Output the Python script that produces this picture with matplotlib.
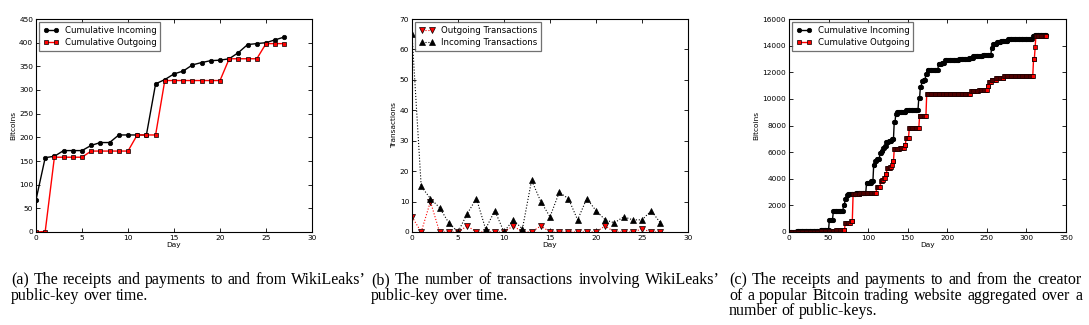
import numpy as np
import matplotlib
matplotlib.use('Agg')
import matplotlib.pyplot as plt

# ---------------- data ----------------
days_a = list(range(28))
a_in = [68, 157, 160, 172, 172, 172, 183, 189, 189, 205, 205, 205, 205, 313,
        322, 334, 340, 353, 358, 362, 363, 366, 379, 396, 398, 400, 406, 412]
a_out = [0, 1, 158, 158, 158, 158, 171, 171, 171, 171, 171, 205, 205, 205,
         320, 320, 320, 320, 320, 320, 320, 366, 366, 366, 366, 398, 398, 398]

days_b = list(range(28))
b_out = [5, 0, 10, 0, 0, 0, 2, 0, 0, 0, 0, 2, 0, 0, 2, 0, 0, 0, 0, 0, 0, 2,
         0, 0, 0, 1, 0, 0]
b_in = [65, 15, 11, 8, 3, 0, 6, 11, 1, 7, 0, 4, 1, 17, 10, 5, 13, 11, 4, 11,
        7, 4, 3, 5, 4, 4, 7, 3]

# panel (c): cumulative levels, each held from its start day to the next one
c_in_start = [0, 10, 20, 30, 40, 47, 51, 56, 69, 71, 73, 75, 85, 98, 104, 107,
              109, 111, 115, 117, 119, 121, 123, 126, 130, 133, 135, 137, 141,
              148, 164, 166, 168, 170, 173, 175, 189, 193, 197, 205, 215, 228,
              233, 245, 256, 258, 263, 268, 277, 308, 311]
c_in_level = [20, 40, 60, 90, 120, 160, 920, 1560, 2050, 2450, 2800, 2880,
              2950, 3700, 3800, 5000, 5300, 5450, 5950, 6050, 6300, 6450, 6750,
              6850, 7000, 8300, 8900, 9000, 9050, 9200, 10050, 10900, 11350,
              11450, 11900, 12150, 12650, 12700, 12900, 12950, 13000, 13100,
              13250, 13300, 13800, 14100, 14250, 14350, 14500, 14700, 14800]
c_out_start = [0, 20, 40, 50, 60, 71, 75, 78, 81, 90, 100, 111, 116, 118, 120,
               122, 124, 128, 130, 131, 133, 140, 146, 148, 152, 165, 174, 230,
               240, 251, 253, 256, 262, 272, 309, 311, 312]
c_out_level = [10, 30, 60, 100, 120, 650, 700, 850, 2850, 2900, 2950, 3350,
               3800, 3900, 4050, 4350, 4800, 4900, 5000, 5300, 6250, 6300, 6550,
               7050, 7800, 8700, 10350, 10600, 10650, 11000, 11300, 11450,
               11550, 11700, 13000, 13900, 14750]
c_last_day = 325

captions = {
    'a': ["(a) The receipts and payments to and from WikiLeaks\u2019",
          "public-key over time."],
    'b': ["(b) The number of transactions involving WikiLeaks\u2019",
          "public-key over time."],
    'c': ["(c) The receipts and payments to and from the creator",
          "of a popular Bitcoin trading website aggregated over a",
          "number of public-keys."],
}


def hold(starts, levels, last):
    d = np.arange(0, last + 1)
    idx = np.searchsorted(np.asarray(starts), d, side='right') - 1
    return d, np.asarray(levels)[idx]


# ---------------- figure ----------------
W, H = 1089, 325
fig = plt.figure(figsize=(W / 100, H / 100), dpi=100)
fig.patch.set_facecolor('white')

TICK = 5.3
LEG = 6.2


def make_ax(left, right, top=19, bottom=232):
    ax = fig.add_axes([left / W, 1 - bottom / H, (right - left) / W,
                       (bottom - top) / H])
    ax.tick_params(direction='in', top=True, right=True, length=3, width=0.6,
                   labelsize=TICK, pad=2)
    for s in ax.spines.values():
        s.set_linewidth(0.8)
    return ax


def style_legend(ax):
    leg = ax.legend(loc='upper left', fontsize=LEG, numpoints=2,
                    handlelength=1.8, borderaxespad=0.4, labelspacing=0.35,
                    borderpad=0.45, handletextpad=0.7, fancybox=False)
    leg.get_frame().set_edgecolor('0.3')
    leg.get_frame().set_linewidth(0.9)
    return leg


# (a)
ax = make_ax(36, 312)
ax.plot(days_a, a_in, '-o', color='black', lw=1.0, ms=3.2, mfc='black',
        mec='black', mew=0.5, label='Cumulative Incoming')
ax.plot(days_a, a_out, '-s', color='red', lw=1.0, ms=3.0, mfc='red',
        mec='black', mew=0.5, label='Cumulative Outgoing')
ax.set_xlim(0, 30)
ax.set_ylim(0, 450)
ax.set_xticks(range(0, 31, 5))
ax.set_yticks(range(0, 451, 50))
ax.set_xlabel('Day', fontsize=TICK, labelpad=1)
ax.set_ylabel('Bitcoins', fontsize=TICK, labelpad=2)
style_legend(ax)

# (b)
ax = make_ax(412, 688)
ax.plot(days_b, b_out, ':v', color='red', lw=0.8, ms=4.5, mfc='red',
        mec='black', mew=0.5, label='Outgoing Transactions')
ax.plot(days_b, b_in, ':^', color='black', lw=0.8, ms=4.5, mfc='black',
        mec='black', mew=0.5, label='Incoming Transactions')
ax.set_xlim(0, 30)
ax.set_ylim(0, 70)
ax.set_xticks(range(0, 31, 5))
ax.set_yticks(range(0, 71, 10))
ax.set_xlabel('Day', fontsize=TICK, labelpad=1)
ax.set_ylabel('Transactions', fontsize=TICK, labelpad=2)
style_legend(ax)

# (c)
ax = make_ax(789, 1066)
d_in, v_in = hold(c_in_start, c_in_level, c_last_day)
d_out, v_out = hold(c_out_start, c_out_level, c_last_day)
ax.plot(d_in, v_in, '-o', color='black', lw=1.0, ms=3.2, mfc='black',
        mec='black', mew=0.5, label='Cumulative Incoming')
ax.plot(d_out, v_out, '-s', color='red', lw=1.0, ms=3.0, mfc='red',
        mec='black', mew=0.5, label='Cumulative Outgoing')
ax.set_xlim(0, 350)
ax.set_ylim(0, 16000)
ax.set_xticks(range(0, 351, 50))
ax.set_yticks(range(0, 16001, 2000))
ax.set_xlabel('Day', fontsize=TICK, labelpad=1)
ax.set_ylabel('Bitcoins', fontsize=TICK, labelpad=2)
style_legend(ax)

# ---------------- justified captions ----------------
CAP = 11.5
renderer = fig.canvas.get_renderer()


def justified(lines, x0, x1, y_base, dy):
    space = 0.25 * CAP * 100 / 72
    for i, line in enumerate(lines):
        words = line.split(' ')
        yf = 1 - (y_base + i * dy) / H
        texts = [fig.text(0, yf, w, fontsize=CAP, family='Liberation Serif',
                          va='baseline', ha='left') for w in words]
        widths = [t.get_window_extent(renderer).width for t in texts]
        if i < len(lines) - 1 and len(words) > 1:
            gap = (x1 - x0 - sum(widths)) / (len(words) - 1)
        else:
            gap = space
        x = x0
        for t, w in zip(texts, widths):
            t.set_x(x / W)
            x += w + gap


justified(captions['a'], 11, 366, 284, 15.5)
justified(captions['b'], 371, 720, 284, 15.5)
justified(captions['c'], 729, 1082, 284, 15.5)

fig.savefig('out.png', dpi=100, facecolor='white')
